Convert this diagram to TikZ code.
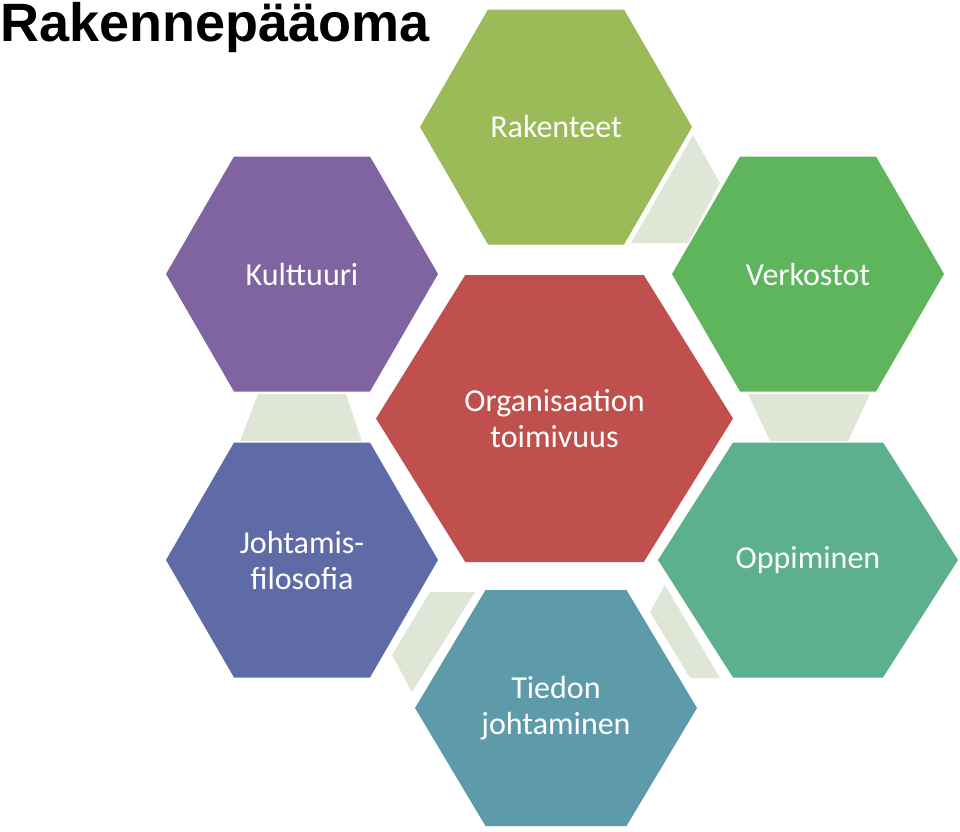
\documentclass[tikz,border=0pt]{standalone}
\usepackage{fontspec}
\setmainfont{Carlito}
\newfontfamily\titlefont{Liberation Sans}
\definecolor{cRak}{HTML}{9BBB59}
\definecolor{cVer}{HTML}{5EB55C}
\definecolor{cKul}{HTML}{8064A2}
\definecolor{cOrg}{HTML}{C0504D}
\definecolor{cJoh}{HTML}{5F6BA7}
\definecolor{cOpp}{HTML}{5CB08D}
\definecolor{cTie}{HTML}{5E9BAA}
\definecolor{cCon}{HTML}{DFE6D6}
\newcommand{\hexa}[6]{% cx cy halfwidth halfheight color name
  \fill[#5] (#1-#3,#2) -- (#1-#3/2,#2-#4) -- (#1+#3/2,#2-#4) -- (#1+#3,#2) -- (#1+#3/2,#2+#4) -- (#1-#3/2,#2+#4) -- cycle;
  \coordinate (#6) at (#1,#2);}
\tikzset{lab/.style={text=white,font=\fontsize{32}{36}\selectfont,align=center,inner sep=0pt}}
\begin{document}
\begin{tikzpicture}[x=1pt,y=-1pt]
\useasboundingbox (0,0) rectangle (960,831);
% connectors
\fill[cCon] (693,135) -- (720,183) -- (688,243) -- (631,243) -- cycle;
\fill[cCon] (258,394) -- (346,394) -- (362,441) -- (240,441) -- cycle;
\fill[cCon] (748,394) -- (870,394) -- (848,441) -- (770,441) -- cycle;
\fill[cCon] (430,592) -- (475,592) -- (412,692) -- (392,655) -- cycle;
\fill[cCon] (665,585) -- (720,678) -- (690,678) -- (650,612) -- cycle;
% hexagons
\hexa{556}{127}{136}{117.5}{cRak}{rak}
\hexa{808}{274}{136}{117.5}{cVer}{ver}
\hexa{302}{274}{136}{117.5}{cKul}{kul}
\hexa{554.5}{418.5}{178.5}{143.5}{cOrg}{org}
\hexa{302}{560}{136}{117.5}{cJoh}{joh}
\hexa{808}{560}{150}{117.5}{cOpp}{opp}
\hexa{556}{708}{141}{118}{cTie}{tie}
\node[lab] at (rak) {Rakenteet};
\node[lab] at (ver) {Verkostot};
\node[lab] at (kul) {Kulttuuri};
\node[lab] at (org) {Organisaation\\toimivuus};
\node[lab] at (joh) {Johtamis-\\filosofia};
\node[lab] at (opp) {Oppiminen};
\node[lab] at (tie) {Tiedon\\johtaminen};
\node[anchor=north west,inner sep=0pt,font=\titlefont\bfseries\fontsize{54}{60}\selectfont] (title) at (0,2) {Rakennepääoma};
\end{tikzpicture}
\end{document}
